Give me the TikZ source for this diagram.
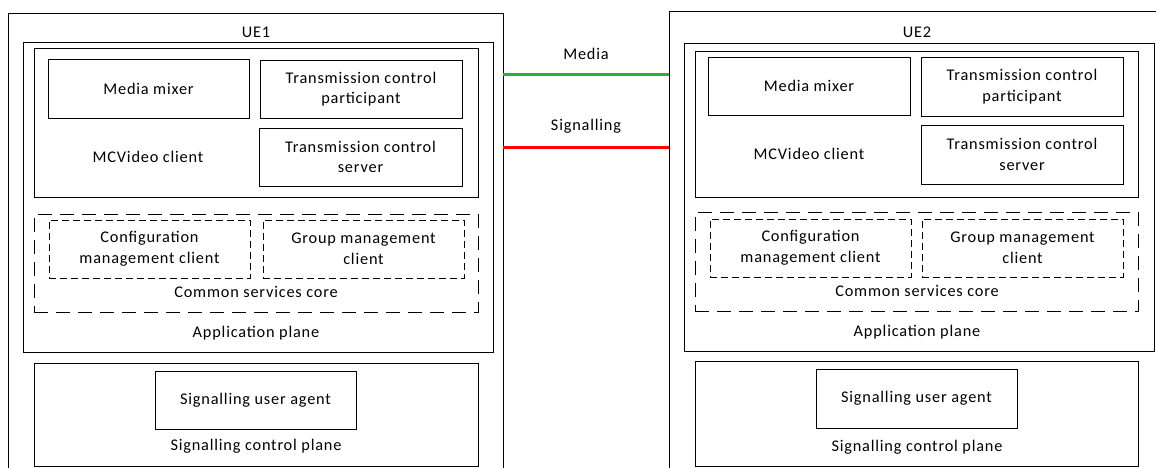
\documentclass[tikz,border=0pt]{standalone}
\usepackage{fontspec}
\setmainfont{Carlito}[LetterSpace=5]
\begin{document}
\begin{tikzpicture}[x=1pt,y=-1pt,
  every node/.style={font=\fontsize{16.3}{20.5}\selectfont, align=center, inner sep=0pt, outer sep=0pt},
  box/.style={draw, line width=1pt},
  dbig/.style={draw, line width=1pt, dash pattern=on 14pt off 8pt},
  dsmall/.style={draw, line width=1pt, dash pattern=on 7pt off 4pt},
  lbl/.style={},
  medialine/.style={draw=green!60!black!80, line width=3pt},
  sigline/.style={draw=red, line width=3pt}]
\useasboundingbox (0,0) rectangle (1156,467);
\clip (0,0) rectangle (1156,467);
% UE1
\node[box, minimum width=495pt, minimum height=477pt] (ue1) at (255.5,251.5) {};
\node[box, minimum width=470pt, minimum height=310pt] (ap1) at (258,197) {};
\node[box, minimum width=444pt, minimum height=149pt] (mc1) at (256,122.5) {};
\node[box, minimum width=201pt, minimum height=59pt] (mm1) at (148.5,88.5) {Media mixer};
\node[box, minimum width=202pt, minimum height=58pt] (tcp1) at (361,89) {Transmission control\\participant};
\node[box, minimum width=203pt, minimum height=58pt] (tcs1) at (360.5,157) {Transmission control\\server};
\node[dbig, minimum width=444pt, minimum height=98pt] (csc1) at (256,263) {};
\node[dsmall, minimum width=201pt, minimum height=58pt] (cmc1) at (149.5,249) {Configuration\\management client};
\node[dsmall, minimum width=201pt, minimum height=58pt] (gmc1) at (363.5,249) {Group management\\client};
\node[box, minimum width=444pt, minimum height=103pt] (scp1) at (256,414.5) {};
\node[box, minimum width=201pt, minimum height=58pt] (sua1) at (255.5,400) {Signalling user agent};
\node[lbl] (ue1l) at (256,32) {UE1};
\node[lbl] (mc1l) at (148,157) {MCVideo client};
\node[lbl] (csc1l) at (256,292) {Common services core};
\node[lbl] (ap1l) at (256,333) {Application plane};
\node[lbl] (scp1l) at (256,446) {Signalling control plane};
% UE2
\node[box, minimum width=501pt, minimum height=479pt] (ue2) at (919.5,250.5) {};
\node[box, minimum width=470pt, minimum height=308pt] (ap2) at (919,197) {};
\node[box, minimum width=443pt, minimum height=146pt] (mc2) at (916.5,124) {};
\node[box, minimum width=202pt, minimum height=58pt] (mm2) at (809,86) {Media mixer};
\node[box, minimum width=202pt, minimum height=59pt] (tcp2) at (1022,86.5) {Transmission control\\participant};
\node[box, minimum width=202pt, minimum height=59pt] (tcs2) at (1022,154.5) {Transmission control\\server};
\node[dbig, minimum width=443pt, minimum height=99pt] (csc2) at (916.5,261.5) {};
\node[dsmall, minimum width=201pt, minimum height=58pt] (cmc2) at (810.5,248) {Configuration\\management client};
\node[dsmall, minimum width=201pt, minimum height=58pt] (gmc2) at (1022.5,248) {Group management\\client};
\node[box, minimum width=443pt, minimum height=105pt] (scp2) at (916.5,413.5) {};
\node[box, minimum width=201pt, minimum height=59pt] (sua2) at (916.5,398.5) {Signalling user agent};
\node[lbl] (ue2l) at (917,32) {UE2};
\node[lbl] (mc2l) at (809,154) {MCVideo client};
\node[lbl] (csc2l) at (917,291) {Common services core};
\node[lbl] (ap2l) at (917,332) {Application plane};
\node[lbl] (scp2l) at (917,447) {Signalling control plane};
% links
\coordinate (my) at (0,74);
\coordinate (sy) at (0,147);
\draw[medialine] (ue1.east |- my) -- (ue2.west |- my);
\draw[sigline] (ue1.east |- sy) -- (ue2.west |- sy);
\node[lbl] (medl) at (586,54) {Media};
\node[lbl] (sigl) at (586,126) {Signalling};
\end{tikzpicture}
\end{document}
